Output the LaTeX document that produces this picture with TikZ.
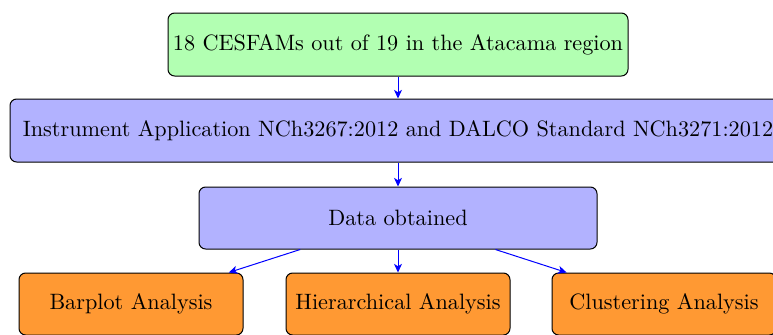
\documentclass[tikz,border=0pt]{standalone}
\usetikzlibrary{arrows.meta}
\begin{document}
\begin{tikzpicture}[x=0.45pt,y=-0.45pt,
  box/.style={draw=black, line width=0.45pt, rounded corners=3pt, inner sep=2pt, font=\fontsize{10}{12}\selectfont, align=center},
  greenbox/.style={box, fill=green!30},
  bluebox/.style={box, fill=blue!30},
  orangebox/.style={box, fill=orange!80},
  conn/.style={draw=blue, line width=0.45pt, -{Stealth[length=3.9pt,width=3.6pt,inset=1.1pt]}}]
\clip (0,0) rectangle (773,334);
\node[greenbox, minimum width=460*0.45pt, minimum height=63*0.45pt] (src) at (398,44.5) {18 CESFAMs out of 19 in the Atacama region};
\node[bluebox, minimum width=776*0.45pt, minimum height=63*0.45pt] (inst) at (398,130.5) {Instrument Application NCh3267:2012 and DALCO Standard NCh3271:2012};
\node[bluebox, minimum width=398*0.45pt, minimum height=62*0.45pt] (data) at (398,218) {Data obtained};
\node[orangebox, minimum width=224*0.45pt, minimum height=62*0.45pt] (bar) at (131,304) {Barplot Analysis};
\node[orangebox, minimum width=224*0.45pt, minimum height=62*0.45pt] (hier) at (398,304) {Hierarchical Analysis};
\node[orangebox, minimum width=224*0.45pt, minimum height=62*0.45pt] (clus) at (664,304) {Clustering Analysis};
\draw[conn] (src) -- (inst);
\draw[conn] (inst) -- (data);
\draw[conn] (data) -- (bar);
\draw[conn] (data) -- (hier);
\draw[conn] (data) -- (clus);
\end{tikzpicture}
\end{document}
